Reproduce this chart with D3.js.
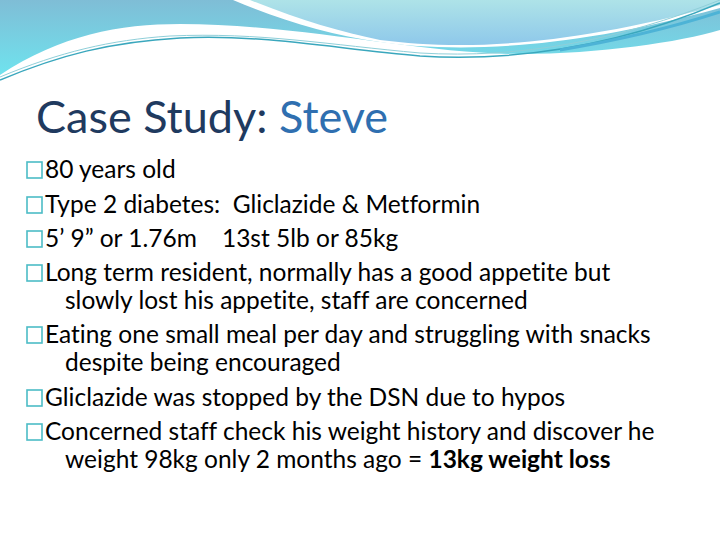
<!DOCTYPE html>
<html><head><meta charset="utf-8">
<script src="https://cdn.jsdelivr.net/npm/d3@7"></script>
<style>body{margin:0;background:#fff} text{font-variant-ligatures:none}</style></head>
<body><svg id="s" width="720" height="540"></svg>
<script>
const titleParts = ["Case Study: ", "Steve"];
const bulletLines = [
  [{t:"80 years old"}],
  [{t:"Type 2 diabetes:  Gliclazide & Metformin"}],
  [{t:"5’ 9” or 1.76m    13st 5lb or 85kg"}],
  [{t:"Long term resident, normally has a good appetite but"}],
  [{t:"slowly lost his appetite, staff are concerned", cont:true}],
  [{t:"Eating one small meal per day and struggling with snacks"}],
  [{t:"despite being encouraged", cont:true}],
  [{t:"Gliclazide was stopped by the DSN due to hypos"}],
  [{t:"Concerned staff check his weight history and discover he"}],
  [{t:"weight 98kg only 2 months ago = ", cont:true},{t:"13kg weight loss", b:true}]
];
const baselines = [178,213,247,281,309,343,371,406,440,468];

const svg = d3.select("#s");
const defs = svg.append("defs");
const g1 = defs.append("linearGradient").attr("id","g1").attr("x1",0).attr("y1",0).attr("x2",0).attr("y2",1);
g1.append("stop").attr("offset",0).attr("stop-color","#7fbdd6");
g1.append("stop").attr("offset",1).attr("stop-color","#6fe3ee");
const g2 = defs.append("linearGradient").attr("id","g2").attr("x1",0).attr("y1",0).attr("x2",0).attr("y2",1);
g2.append("stop").attr("offset",0).attr("stop-color","#aee3e8");
g2.append("stop").attr("offset",1).attr("stop-color","#8ec8ea");

svg.append("path").attr("fill","url(#g1)")
  .attr("d","M0,0 L720,0 L720,30 C680,42 600,54 520,54 C420,54 300,24 180,24 C120,24 60,35 0,75 Z");
svg.append("path").attr("fill","#fff")
  .attr("d","M233,0 C280,20 330,35 380,42 C450,52 560,52 720,8 L720,0 Z");
svg.append("path").attr("fill","url(#g2)")
  .attr("d","M250,0 C300,20 340,32 380,40 C460,50 560,48 720,5 L720,0 Z");
svg.append("path").attr("fill","none").attr("stroke","#3aa7bd").attr("stroke-width",1.5)
  .attr("d","M0,80 C60,55 110,42 180,38 C260,34 330,48 420,56 C520,62 620,45 720,3");
svg.append("path").attr("fill","none").attr("stroke","#8fcfd9").attr("stroke-width",1)
  .attr("d","M0,77 C60,52 110,40 170,36 C260,32 330,45 420,53 C520,59 620,40 720,0");
svg.append("path").attr("fill","none").attr("stroke","#4db3d6").attr("stroke-width",3)
  .attr("d","M560,50 C620,40 680,25 720,12");

const title = svg.append("text").attr("x",36).attr("y",133)
  .style("font-family","Lato, 'Open Sans', sans-serif").style("font-size","45px");
title.append("tspan").attr("fill","#1f3a5f").text(titleParts[0]);
title.append("tspan").attr("fill","#2f6fb0").text(titleParts[1]);

bulletLines.forEach((line,i)=>{
  const y = baselines[i];
  const cont = line[0].cont;
  if(!cont){
    svg.append("rect").attr("x",27).attr("y",y-16).attr("width",15).attr("height",16)
      .attr("fill","none").attr("stroke","#4cbcc6").attr("stroke-width",1.6);
  }
  const t = svg.append("text").attr("x",cont?65:45).attr("y",y)
    .style("font-family","Lato, 'Open Sans', sans-serif").style("font-size","24.5px").attr("fill","#000")
    .attr("xml:space","preserve").style("white-space","pre");
  line.forEach(p=>t.append("tspan").style("font-weight",p.b?"bold":"normal").text(p.t));
});
</script></body></html>
